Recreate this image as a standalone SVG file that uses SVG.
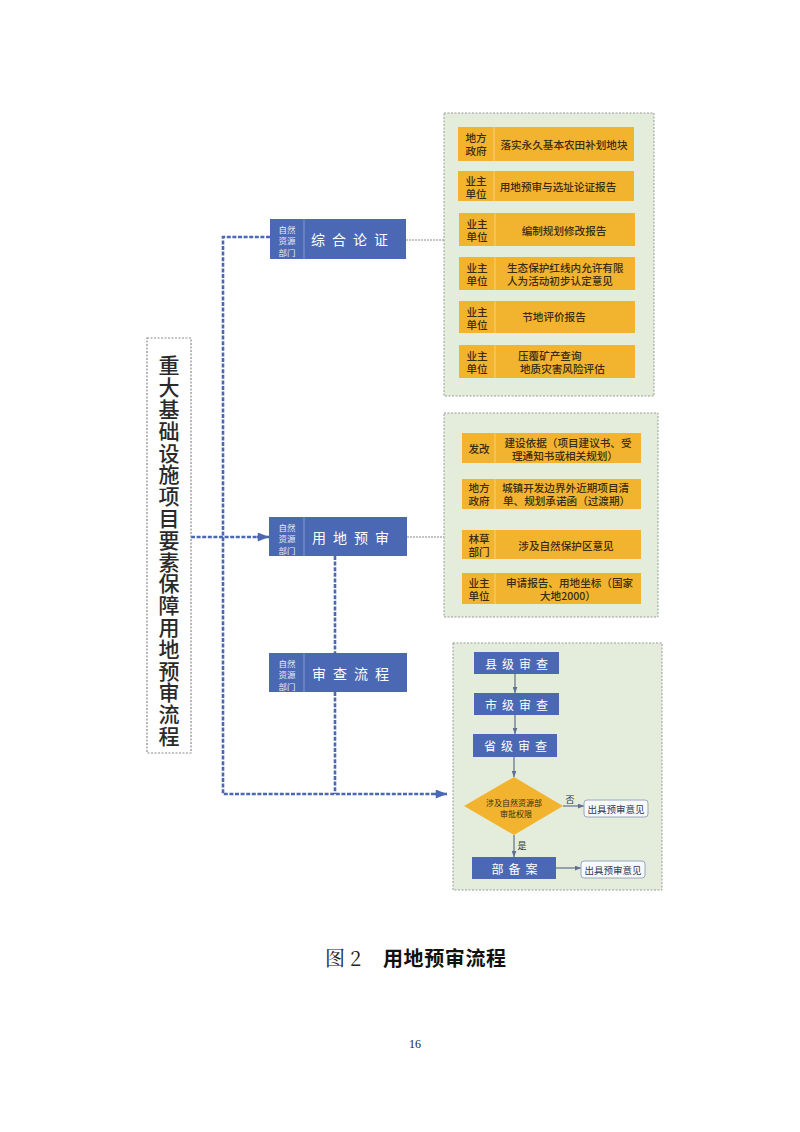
<svg xmlns="http://www.w3.org/2000/svg" width="800" height="1132" viewBox="0 0 800 1132">
<style>
.cjk{font-family:"Noto Sans CJK SC","Noto Sans",sans-serif}
.node{fill:#4a68b3}
.div{stroke:#8096cf;stroke-width:1}
.nt{font-family:"Noto Sans CJK SC",sans-serif;fill:#fff;font-size:14px;letter-spacing:7px;dominant-baseline:central}
.sm{font-family:"Noto Sans CJK SC",sans-serif;fill:#e8ecf7;font-size:8.5px;text-anchor:middle;dominant-baseline:central}
.panel{fill:#e4eddb;stroke:#9a9a9a;stroke-width:1;stroke-dasharray:2 1.5}
.bar{fill:#f2b32e}
.bdiv{stroke:#f8d07a;stroke-width:1}
.bt{font-family:"Noto Sans CJK SC",sans-serif;fill:#3a2c12;font-size:10.6px;font-weight:500;dominant-baseline:central}
.mid{text-anchor:middle}
.main{fill:none;stroke:#4a68b3;stroke-width:2.6;stroke-dasharray:4 1.6}
.dot{fill:none;stroke:#8a8a8a;stroke-width:1;stroke-dasharray:2 1}
.fl{fill:none;stroke:#5f6f8e;stroke-width:1.2}
.bx{fill:#4a68b3}
.bxt{font-family:"Noto Sans CJK SC",sans-serif;fill:#fff;font-size:12px;letter-spacing:5px;dominant-baseline:central;text-anchor:middle}
.out{fill:#f7f9fb;stroke:#9aa6bd;stroke-width:1}
.ot{font-family:"Noto Sans CJK SC",sans-serif;fill:#2f3a55;font-size:9.5px;dominant-baseline:central;text-anchor:middle}
</style>
<defs>
<marker id="ab" viewBox="0 0 10 8" refX="10" refY="4" markerWidth="12" markerHeight="9" markerUnits="userSpaceOnUse" orient="auto"><path d="M0,0 L10,4 L0,8 Z" fill="#4a68b3"/></marker>
<marker id="ag" viewBox="0 0 10 8" refX="10" refY="4" markerWidth="6" markerHeight="5" markerUnits="userSpaceOnUse" orient="auto"><path d="M0,0 L10,4 L0,8 Z" fill="#5f6f8e"/></marker>
</defs>
<rect width="800" height="1132" fill="#fff"/>

<g id="connectors">
<path class="main" d="M270,237 H223 V794 H435"/>
<path class="main" d="M191,537 H257"/>
<path d="M257,537 H269" stroke="#4a68b3" stroke-width="2.6" marker-end="url(#ab)"/>
<path d="M435,794 H447" stroke="#4a68b3" stroke-width="2.6" marker-end="url(#ab)"/>
<path class="main" d="M335,556 V653"/>
<path class="main" d="M335,692 V794"/>
<path class="dot" d="M406,240 H444"/>
<path class="dot" d="M407,537 H444"/>
</g>

<g id="title">
<rect x="147" y="338" width="44" height="415" fill="#fff" stroke="#8a8a8a" stroke-width="1.2" stroke-dasharray="2 1.5"/>
<text class="cjk" x="169" y="355" writing-mode="vertical-rl" font-size="21" font-weight="500" letter-spacing="0.8" fill="#2a2a2a">重大基础设施项目要素保障用地预审流程</text>
</g>

<g id="node-zhlz">
<rect class="node" x="270" y="219" width="136" height="40"/>
<line class="div" x1="304" y1="219" x2="304" y2="259"/>
<text class="sm" x="287" y="228.5">自然</text><text class="sm" x="287" y="240">资源</text><text class="sm" x="287" y="251.5">部门</text>
<text class="nt" x="311" y="239">综合论证</text>
</g>

<g id="node-ydys">
<rect class="node" x="269" y="517" width="138" height="39"/>
<line class="div" x1="304" y1="517" x2="304" y2="556"/>
<text class="sm" x="287" y="526.5">自然</text><text class="sm" x="287" y="538">资源</text><text class="sm" x="287" y="549.5">部门</text>
<text class="nt" x="312" y="536.5">用地预审</text>
</g>

<g id="node-sclc">
<rect class="node" x="269" y="653" width="138" height="39"/>
<line class="div" x1="304" y1="653" x2="304" y2="692"/>
<text class="sm" x="287" y="662.5">自然</text><text class="sm" x="287" y="674">资源</text><text class="sm" x="287" y="685.5">部门</text>
<text class="nt" x="312" y="672.5">审查流程</text>
</g>

<g id="panel-1">
<rect class="panel" x="444" y="113" width="210" height="283"/>
<rect class="bar" x="458" y="127" width="176" height="34"/><line class="bdiv" x1="494" y1="127" x2="494" y2="161"/>
<text class="bt mid" x="476" y="137.5">地方</text><text class="bt mid" x="476" y="150.5">政府</text>
<text class="bt mid" x="564" y="144">落实永久基本农田补划地块</text>

<rect class="bar" x="458" y="171" width="176" height="30"/><line class="bdiv" x1="494" y1="171" x2="494" y2="201"/>
<text class="bt mid" x="476" y="180">业主</text><text class="bt mid" x="476" y="193">单位</text>
<text class="bt mid" x="558" y="186">用地预审与选址论证报告</text>

<rect class="bar" x="459" y="213" width="176" height="33"/><line class="bdiv" x1="495" y1="213" x2="495" y2="246"/>
<text class="bt mid" x="477" y="223">业主</text><text class="bt mid" x="477" y="236">单位</text>
<text class="bt mid" x="564" y="230">编制规划修改报告</text>

<rect class="bar" x="459" y="257" width="176" height="33"/><line class="bdiv" x1="495" y1="257" x2="495" y2="290"/>
<text class="bt mid" x="477" y="267">业主</text><text class="bt mid" x="477" y="280">单位</text>
<text class="bt" x="507" y="267">生态保护红线内允许有限</text>
<text class="bt" x="507" y="280">人为活动初步认定意见</text>

<rect class="bar" x="459" y="301" width="176" height="32"/><line class="bdiv" x1="495" y1="301" x2="495" y2="333"/>
<text class="bt mid" x="477" y="311">业主</text><text class="bt mid" x="477" y="324">单位</text>
<text class="bt mid" x="554" y="316">节地评价报告</text>

<rect class="bar" x="459" y="345" width="176" height="33"/><line class="bdiv" x1="495" y1="345" x2="495" y2="378"/>
<text class="bt mid" x="477" y="355">业主</text><text class="bt mid" x="477" y="368">单位</text>
<text class="bt" x="518" y="355.5">压覆矿产查询</text>
<text class="bt" x="520" y="368.5">地质灾害风险评估</text>
</g>

<g id="panel-2">
<rect class="panel" x="444" y="413" width="214" height="204"/>
<rect class="bar" x="462" y="433" width="179" height="30"/><line class="bdiv" x1="495" y1="433" x2="495" y2="463"/>
<text class="bt mid" x="479" y="448">发改</text>
<text class="bt mid" x="568" y="442">建设依据（项目建议书、受</text>
<text class="bt mid" x="565" y="455">理通知书或相关规划）</text>

<rect class="bar" x="462" y="479" width="179" height="30"/><line class="bdiv" x1="495" y1="479" x2="495" y2="509"/>
<text class="bt mid" x="479" y="487.5">地方</text><text class="bt mid" x="479" y="500.5">政府</text>
<text class="bt" x="502" y="487.5">城镇开发边界外近期项目清</text>
<text class="bt" x="503" y="500.5">单、规划承诺函（过渡期）</text>

<rect class="bar" x="462" y="530" width="179" height="29"/><line class="bdiv" x1="495" y1="530" x2="495" y2="559"/>
<text class="bt mid" x="479" y="538">林草</text><text class="bt mid" x="479" y="551">部门</text>
<text class="bt mid" x="566" y="545">涉及自然保护区意见</text>

<rect class="bar" x="462" y="573" width="179" height="31"/><line class="bdiv" x1="495" y1="573" x2="495" y2="604"/>
<text class="bt mid" x="479" y="582.5">业主</text><text class="bt mid" x="479" y="595.5">单位</text>
<text class="bt" x="506" y="582.5">申请报告、用地坐标（国家</text>
<text class="bt mid" x="568" y="595.5">大地2000）</text>
</g>

<g id="panel-3">
<rect class="panel" x="453" y="643" width="209" height="247"/>
</g>

<g id="flow-connectors">
<path class="fl" d="M515,674 V693" marker-end="url(#ag)"/>
<path class="fl" d="M515,715 V734" marker-end="url(#ag)"/>
<path class="fl" d="M514,757 V777" marker-end="url(#ag)"/>
<path class="fl" d="M563,806 H584" marker-end="url(#ag)"/>
<path class="fl" d="M514,835 V857" marker-end="url(#ag)"/>
<path class="fl" d="M556,868 H581" marker-end="url(#ag)"/>
<text class="cjk" x="570" y="799" font-size="9" fill="#333" text-anchor="middle" dominant-baseline="central">否</text>
<text class="cjk" x="522" y="845" font-size="9" fill="#333" text-anchor="middle" dominant-baseline="central">是</text>
</g>

<g id="box-xian"><rect class="bx" x="474" y="652" width="85" height="22"/><text class="bxt" x="519" y="663">县级审查</text></g>
<g id="box-shi"><rect class="bx" x="474" y="693" width="85" height="22"/><text class="bxt" x="519" y="704">市级审查</text></g>
<g id="box-sheng"><rect class="bx" x="473" y="734" width="84" height="23"/><text class="bxt" x="518" y="745.5">省级审查</text></g>
<g id="decision">
<path d="M514,777 L563,806 L514,835 L464,806 Z" fill="#f2b32e"/>
<text class="cjk" x="514" y="802" font-size="8" fill="#3a2c12" text-anchor="middle" dominant-baseline="central">涉及自然资源部</text>
<text class="cjk" x="516" y="813" font-size="8" fill="#3a2c12" text-anchor="middle" dominant-baseline="central">审批权限</text>
</g>
<g id="out-1"><rect class="out" x="584" y="800" width="64" height="17" rx="3"/><text class="ot" x="616" y="808.5">出具预审意见</text></g>
<g id="box-bu"><rect class="bx" x="472" y="857" width="84" height="22"/><text class="bxt" x="517" y="868" letter-spacing="8">部备案</text></g>
<g id="out-2"><rect class="out" x="581" y="861" width="64" height="17" rx="3"/><text class="ot" x="613" y="869.5">出具预审意见</text></g>

<g id="caption">
<text x="325" y="966" font-family="'Noto Serif CJK SC','Liberation Serif',serif" font-size="20" fill="#222">图 2</text>
<text x="383" y="966" font-family="'Noto Sans CJK SC',sans-serif" font-size="20" font-weight="bold" fill="#111" letter-spacing="0.6">用地预审流程</text>
<text x="415" y="1048" font-family="'Liberation Serif',serif" font-size="12" fill="#222" text-anchor="middle">16</text>
</g>
</svg>
